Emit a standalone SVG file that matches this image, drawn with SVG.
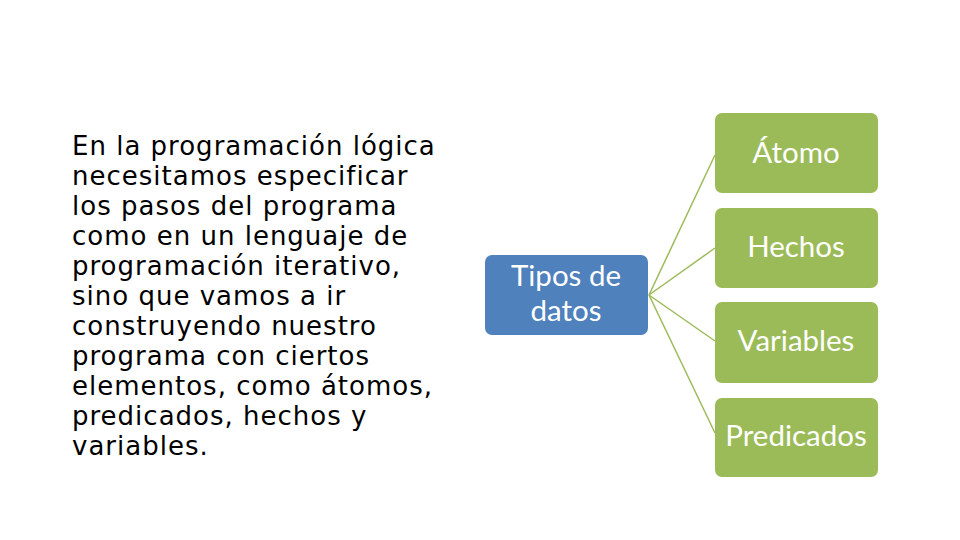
<svg xmlns="http://www.w3.org/2000/svg" width="960" height="540" viewBox="0 0 960 540">
<style>
.body{font-family:"DejaVu Sans",Verdana,sans-serif;font-size:26px;letter-spacing:1px;fill:#000}
.lbl{font-family:Lato,"Open Sans",sans-serif;font-size:29.5px;fill:#fff;text-anchor:middle}
.blue{fill:#4F81BD}
.green{fill:#9BBB59}
.conn{stroke:#9BBB59;stroke-width:1.5;fill:none}
</style>
<rect width="960" height="540" fill="#fff"/>
<g id="bodytext">
<text class="body" x="72" y="155">En la programación lógica</text>
<text class="body" x="72" y="185">necesitamos especificar</text>
<text class="body" x="72" y="215">los pasos del programa</text>
<text class="body" x="72" y="245">como en un lenguaje de</text>
<text class="body" x="72" y="275">programación iterativo,</text>
<text class="body" x="72" y="305">sino que vamos a ir</text>
<text class="body" x="72" y="335">construyendo nuestro</text>
<text class="body" x="72" y="365">programa con ciertos</text>
<text class="body" x="72" y="395">elementos, como átomos,</text>
<text class="body" x="72" y="425">predicados, hechos y</text>
<text class="body" x="72" y="455">variables.</text>
</g>
<g id="connectors">
<line class="conn" x1="649" y1="295" x2="715" y2="155"/>
<line class="conn" x1="649" y1="295" x2="715" y2="248"/>
<line class="conn" x1="649" y1="295" x2="715" y2="341"/>
<line class="conn" x1="649" y1="295" x2="715" y2="433"/>
</g>
<g id="tipos">
<rect class="blue" x="485" y="255" width="163" height="80" rx="7"/>
<text class="lbl" x="566" y="286">Tipos de</text>
<text class="lbl" x="566" y="321">datos</text>
</g>
<g id="atomo">
<rect class="green" x="715" y="113" width="163" height="80" rx="7"/>
<text class="lbl" x="796" y="163">Átomo</text>
</g>
<g id="hechos">
<rect class="green" x="715" y="208" width="163" height="80" rx="7"/>
<text class="lbl" x="796" y="257">Hechos</text>
</g>
<g id="variables">
<rect class="green" x="715" y="302" width="163" height="81" rx="7"/>
<text class="lbl" x="796" y="351">Variables</text>
</g>
<g id="predicados">
<rect class="green" x="715" y="398" width="163" height="79" rx="7"/>
<text class="lbl" x="796" y="446">Predicados</text>
</g>
</svg>
